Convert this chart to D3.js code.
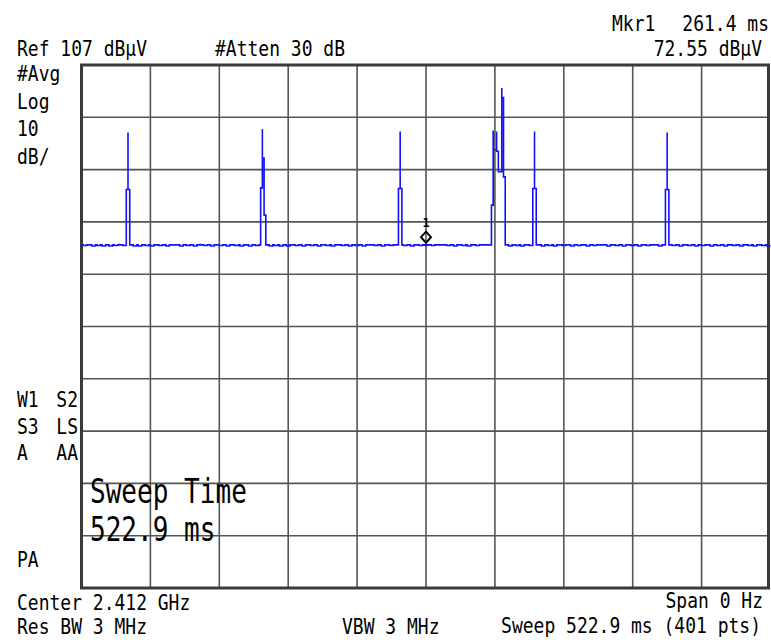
<!DOCTYPE html>
<html>
<head>
<meta charset="utf-8">
<script src="https://cdn.jsdelivr.net/npm/d3@7"></script>
<style>
  html, body { margin: 0; padding: 0; background: #fff; }
  svg { display: block; }
  text { font-family: "DejaVu Sans Mono", "Liberation Mono", monospace; fill: #000; }
</style>
</head>
<body>
<svg id="chart" width="771" height="640"></svg>
<script>
// ---------- DATA ----------
const refLevel = 107;          // dBµV, top of screen
const dbPerDiv = 10;
const numDivs = 10;
const sweepMs = 522.9;
const numPts = 401;
const marker = { index: 200, timeMs: 261.4, level: 72.55, label: "1" };

// trace amplitude (dBµV), 401 points across the sweep
const trace = [
  72.6,72.6,72.5,72.6,72.6,72.6,72.6,72.4,72.6,72.6,72.5,72.6,72.6,72.4,72.6,72.6,72.6,72.4,72.6,72.6,
  72.5,72.6,72.8,72.6,72.6,72.5,83.2,94.1,83.2,72.6,72.6,72.4,72.6,72.6,72.4,72.6,72.6,72.6,72.5,72.6,
  72.6,72.4,72.6,72.6,72.6,72.6,72.5,72.6,72.6,72.6,72.4,72.6,72.6,72.6,72.6,72.7,72.6,72.6,72.4,72.6,
  72.6,72.6,72.5,72.6,72.6,72.6,72.4,72.6,72.6,72.8,72.6,72.6,72.5,72.6,72.6,72.6,72.4,72.6,72.6,72.6,
  72.6,72.5,72.6,72.6,72.6,72.4,72.6,72.6,72.6,72.6,72.5,72.6,72.6,72.4,72.6,72.6,72.6,72.6,72.4,72.6,
  72.6,72.6,72.5,72.6,83.5,94.7,89.2,78.3,72.6,72.6,72.4,72.6,72.6,72.5,72.6,72.6,72.4,72.6,72.6,72.6,
  72.4,72.6,72.6,72.6,72.6,72.5,72.6,72.6,72.6,72.4,72.6,72.6,72.6,72.6,72.5,72.6,72.6,72.6,72.4,72.6,
  72.6,72.6,72.6,72.5,72.6,72.6,72.4,72.6,72.6,72.6,72.6,72.6,72.5,72.6,72.6,72.6,72.4,72.6,72.6,72.6,
  72.5,72.6,72.6,72.6,72.4,72.6,72.6,72.6,72.7,72.6,72.6,72.5,72.6,72.6,72.6,72.4,72.6,72.6,72.6,72.6,
  72.5,72.6,72.6,72.6,83.4,94.3,83.4,72.6,72.5,72.6,72.6,72.6,72.4,72.6,72.6,72.6,72.6,72.5,72.6,72.6,
  72.55,72.6,72.6,72.6,72.5,72.6,72.6,72.6,72.6,72.7,72.6,72.6,72.6,72.5,72.6,72.6,72.6,72.4,72.6,72.6,
  72.6,72.6,72.5,72.6,72.6,72.4,72.6,72.6,72.6,72.6,72.5,72.6,72.6,72.6,72.6,72.6,72.6,72.6,80.2,94.5,
  90.8,94.3,90.5,86.6,102.6,100.8,85.6,72.6,72.6,72.4,72.6,72.6,72.6,72.5,72.6,72.6,72.4,72.6,72.6,72.6,
  72.6,72.5,83.4,94.3,83.4,72.6,72.6,72.6,72.4,72.6,72.6,72.6,72.5,72.6,72.6,72.4,72.6,72.6,72.6,72.6,
  72.5,72.6,72.6,72.6,72.6,72.4,72.6,72.6,72.6,72.5,72.6,72.6,72.6,72.6,72.4,72.6,72.6,72.6,72.5,72.6,
  72.6,72.6,72.7,72.6,72.6,72.6,72.4,72.6,72.6,72.6,72.6,72.5,72.6,72.6,72.6,72.4,72.6,72.6,72.6,72.6,
  72.5,72.6,72.6,72.6,72.4,72.6,72.6,72.6,72.6,72.5,72.6,72.6,72.6,72.7,72.6,72.6,72.4,72.6,72.6,83.2,
  94.1,83.2,72.6,72.6,72.5,72.6,72.6,72.6,72.4,72.6,72.6,72.6,72.6,72.5,72.6,72.6,72.6,72.4,72.6,72.6,
  72.6,72.5,72.6,72.6,72.6,72.6,72.4,72.6,72.6,72.6,72.5,72.6,72.6,72.6,72.4,72.6,72.6,72.6,72.6,72.5,
  72.6,72.6,72.6,72.4,72.6,72.6,72.6,72.6,72.5,72.6,72.6,72.4,72.6,72.6,72.6,72.6,72.5,72.6,72.6,72.4,
  72.6
];

// annotation texts
const headerLeft = ["Ref 107 dBµV", "#Atten 30 dB"];
const headerRight = ["Mkr1", "261.4 ms", "72.55 dBµV"];
const sideLabels = ["#Avg", "Log", "10", "dB/"];
const sideLabelsLow = [["W1", "S2"], ["S3", "LS"], ["A", "AA"]];
const sideLabelPA = "PA";
const sweepMsg = ["Sweep Time", "522.9 ms"];
const footerLeft = ["Center 2.412 GHz", "Res BW 3 MHz"];
const footerMid = "VBW 3 MHz";
const footerRight = ["Span 0 Hz", "Sweep 522.9 ms (401 pts)"];

// ---------- LAYOUT ----------
const plot = { left: 81.5, top: 65, right: 770.5, bottom: 588 };
const svg = d3.select("#chart");

const x = d3.scaleLinear().domain([0, numPts - 1]).range([plot.left, plot.right]);
const y = d3.scaleLinear().domain([refLevel - dbPerDiv * numDivs, refLevel]).range([plot.bottom, plot.top]);
const xGrid = d3.scaleLinear().domain([0, numDivs]).range([plot.left, plot.right]);

// grid
const grid = svg.append("g");
grid.selectAll("line.v").data(d3.range(1, numDivs)).join("line")
  .attr("x1", d => xGrid(d)).attr("x2", d => xGrid(d))
  .attr("y1", plot.top).attr("y2", plot.bottom)
  .attr("stroke", "#555").attr("stroke-width", 1.6);
grid.selectAll("line.h").data(d3.range(1, numDivs)).join("line")
  .attr("y1", d => y(refLevel - d * dbPerDiv)).attr("y2", d => y(refLevel - d * dbPerDiv))
  .attr("x1", plot.left).attr("x2", 769)
  .attr("stroke", "#555").attr("stroke-width", 1.6);
// border
svg.append("rect")
  .attr("x", plot.left).attr("y", plot.top)
  .attr("width", 768.5 - plot.left).attr("height", plot.bottom - plot.top)
  .attr("fill", "none").attr("stroke", "#3a3a3a").attr("stroke-width", 3);

// custom curve: instrument-style trace, jogs happen at the lower level,
// so every rise/fall is drawn as a vertical stroke
function curveInstrument(context) {
  return {
    areaStart() {}, areaEnd() {},
    lineStart() { this._p = 0; this._x = NaN; this._y = NaN; },
    lineEnd() {},
    point(px, py) {
      px = +px; py = +py;
      if (!this._p) { context.moveTo(px, py); this._p = 1; }
      else if (py < this._y) { context.lineTo(px, this._y); context.lineTo(px, py); }
      else { context.lineTo(this._x, py); context.lineTo(px, py); }
      this._x = px; this._y = py;
    }
  };
}

// trace
svg.append("clipPath").attr("id", "clip").append("rect")
  .attr("x", plot.left).attr("y", plot.top)
  .attr("width", plot.right - plot.left).attr("height", plot.bottom - plot.top);
const line = d3.line().x((d, i) => x(i)).y(d => y(d)).curve(curveInstrument);
svg.append("path").datum(trace)
  .attr("clip-path", "url(#clip)")
  .attr("d", line)
  .attr("fill", "none").attr("stroke", "#1010ff").attr("stroke-width", 1.6)
  .attr("stroke-linejoin", "miter");

// marker
const mx = x(marker.index), my = y(marker.level);
svg.append("path")
  .attr("d", `M${mx},${my - 13.5} L${mx + 5},${my - 8} L${mx},${my - 2.5} L${mx - 5},${my - 8} Z`)
  .attr("fill", "none").attr("stroke", "#000").attr("stroke-width", 2);
svg.append("text").attr("x", mx).attr("y", my - 18.5)
  .attr("text-anchor", "middle").attr("font-size", 12).attr("font-weight", "bold")
  .text(marker.label);

// text helper (tall narrow instrument font)
function label(xp, yp, s, anchor = "start", size = 21, sx = 0.857) {
  svg.append("g").attr("transform", `translate(${xp},${yp}) scale(${sx},1)`)
    .append("text").attr("text-anchor", anchor).attr("font-size", size)
    .attr("xml:space", "preserve").text(s);
}

label(17, 56, headerLeft[0]);
label(215, 56, headerLeft[1]);
label(612, 31, headerRight[0]);
label(769, 31, headerRight[1], "end");
label(762, 56, headerRight[2], "end");

sideLabels.forEach((s, i) => label(17, 81 + i * 27.5, s));
sideLabelsLow.forEach((p, i) => {
  label(17, 407 + i * 26.5, p[0]);
  label(78, 407 + i * 26.5, p[1], "end");
});
label(17, 567, sideLabelPA);

label(90, 503, sweepMsg[0], "start", 33, 0.79);
label(90, 541, sweepMsg[1], "start", 33, 0.79);

label(17, 610, footerLeft[0]);
label(17, 634, footerLeft[1]);
label(342, 634, footerMid);
label(763, 608, footerRight[0], "end");
label(761, 633, footerRight[1], "end");
</script>
</body>
</html>
